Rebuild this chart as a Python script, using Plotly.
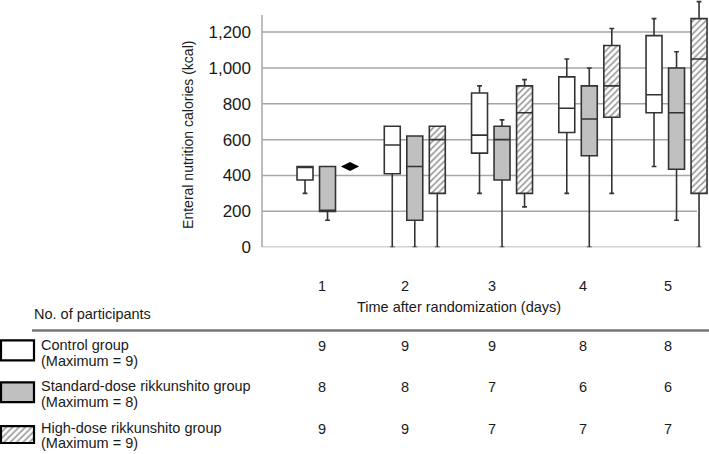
import plotly.graph_objects as go

# ---------------- data ----------------
days = [1, 2, 3, 4, 5]
day_labels = ["1", "2", "3", "4", "5"]
y_ticks = [0, 200, 400, 600, 800, 1000, 1200]

control_lo = [300, 0, 300, 300, 450]
control_q1 = [375, 410, 525, 640, 750]
control_med = [450, 570, 625, 775, 850]
control_q3 = [450, 675, 860, 950, 1180]
control_hi = [450, 675, 900, 1050, 1275]

standard_lo = [150, 0, 0, 0, 150]
standard_q1 = [200, 150, 375, 510, 435]
standard_med = [200, 450, 600, 715, 750]
standard_q3 = [450, 620, 675, 900, 1000]
standard_hi = [450, 620, 710, 1000, 1090]

high_days = [2, 3, 4, 5]
high_lo = [0, 225, 300, 0]
high_q1 = [300, 300, 725, 300]
high_med = [600, 750, 900, 1050]
high_q3 = [675, 900, 1125, 1275]
high_hi = [675, 935, 1220, 1370]
high_single_days = [1]
high_single_vals = [450]

n_control = [9, 9, 9, 8, 8]
n_standard = [8, 8, 7, 6, 6]
n_high = [9, 9, 7, 7, 7]
group_names = ["Control group", "Standard-dose rikkunshito group", "High-dose rikkunshito group"]
group_max = ["(Maximum = 9)", "(Maximum = 8)", "(Maximum = 9)"]

# ---------------- layout constants ----------------
W, H = 709, 454
VK = 454 / 446        # vertical correction observed in the renderer
FONT = "Liberation Sans, Arial, sans-serif"
TXT = "#1a1a1a"
SLOT = 0.258          # distance between group centres (days units)
BOXW = 0.183          # box width (days units)
LINE = "#333333"
GREY_FILL = "#c0c0c0"

def px(x):
    return x / W

def py(y):
    return min(1.0, max(0.0, 1 - y * VK / H))

PLOT_L, PLOT_R, PLOT_B, PLOT_T = 262, 709, 248.3, 0
X_RANGE = [0.249, 5.372]
Y_RANGE = [0, 1379]

fig = go.Figure()

hatch = dict(shape="/", fgcolor="#333333", bgcolor="white", size=4.5, solidity=0.38)

# hatched fill under high-dose boxes
fig.add_trace(go.Bar(
    x=high_days, base=high_q1,
    y=[q3 - q1 for q1, q3 in zip(high_q1, high_q3)],
    width=BOXW, offset=SLOT - BOXW / 2,
    marker=dict(color="white", line=dict(width=0), pattern=hatch),
    hoverinfo="skip", showlegend=False,
))

common = dict(line=dict(color=LINE, width=1.6), whiskerwidth=0.3,
              boxpoints=False, showlegend=False, width=BOXW)

fig.add_trace(go.Box(name="Control", x=[d - SLOT for d in days], q1=control_q1,
                     median=control_med, q3=control_q3, lowerfence=control_lo,
                     upperfence=control_hi, fillcolor="white", **common))
fig.add_trace(go.Box(name="Standard", x=days, q1=standard_q1, median=standard_med,
                     q3=standard_q3, lowerfence=standard_lo, upperfence=standard_hi,
                     fillcolor=GREY_FILL, **common))
fig.add_trace(go.Box(name="High", x=[d + SLOT for d in high_days], q1=high_q1,
                     median=high_med, q3=high_q3, lowerfence=high_lo,
                     upperfence=high_hi, fillcolor="rgba(0,0,0,0)", **common))

# single value shown as a diamond (high-dose, day 1)
fig.add_trace(go.Scatter(
    x=[d + SLOT for d in high_single_days], y=high_single_vals, mode="markers",
    marker=dict(symbol="diamond-wide", size=13, color="black"),
    showlegend=False, hoverinfo="skip",
))

# hatched legend swatch (own small axes)
fig.add_trace(go.Bar(
    x=[0], y=[1], width=1, xaxis="x2", yaxis="y2",
    marker=dict(color="white", line=dict(width=0), pattern=hatch),
    hoverinfo="skip", showlegend=False,
))

shapes = []
GRID = "#a6a6a6"
for v in y_ticks:
    shapes.append(dict(type="line", xref="paper", yref="y", x0=px(PLOT_L), x1=px(697),
                       y0=v, y1=v, line=dict(color=GRID, width=1.5), layer="below"))
shapes.append(dict(type="line", xref="paper", yref="y", x0=px(PLOT_L), x1=px(PLOT_L),
                   y0=0, y1=1296, line=dict(color=GRID, width=1.5), layer="below"))
# table rule
shapes.append(dict(type="line", xref="paper", yref="paper", x0=px(32), x1=px(709),
                   y0=py(332), y1=py(332), line=dict(color="#767676", width=2.5)))
# legend swatches
sw = [(342, 362, "white"), (384, 404, GREY_FILL), (428, 445, "rgba(0,0,0,0)")]
for y0, y1, fc in sw:
    shapes.append(dict(type="rect", xref="paper", yref="paper", x0=px(1), x1=px(34),
                       y0=py(y1), y1=py(y0), fillcolor=fc,
                       line=dict(color="black", width=2.2),
                       layer="above" if fc.startswith("rgba") else "below"))

ann = []
def text(x, y, s, xanchor="left", size=14.5, angle=0):
    ann.append(dict(x=px(x), y=py(y), xref="paper", yref="paper", text=s,
                    showarrow=False, xanchor=xanchor, yanchor="middle",
                    textangle=angle, font=dict(size=size, color=TXT, family=FONT)))

col_x = [322, 405, 492, 583, 668]
for cx, lab in zip(col_x, day_labels):
    text(cx, 287, lab, "center")
text(459, 308, "Time after randomization (days)", "center")
text(32, 315, "No. of participants")
text(188.5, 135, "Enteral nutrition calories (kcal)", "center", 14, -90)

row_y = [(347, 363), (388, 404), (430, 445)]
for (y1, y2), name, mx in zip(row_y, group_names, group_max):
    text(39, y1, name)
    text(39, y2, mx)
for cols, (y1, _) in zip([n_control, n_standard, n_high], row_y):
    for cx, n in zip(col_x, cols):
        text(cx, y1 + 1, str(n), "center")

fig.update_layout(
    width=W, height=H, autosize=False,
    margin=dict(l=0, r=0, t=0, b=0),
    paper_bgcolor="white", plot_bgcolor="white",
    barmode="overlay", boxmode="overlay",
    font=dict(family=FONT, color=TXT),
    xaxis=dict(domain=[px(PLOT_L), px(PLOT_R)], range=X_RANGE, showgrid=False,
               zeroline=False, showline=False, showticklabels=False, fixedrange=True),
    yaxis=dict(domain=[py(PLOT_B), py(PLOT_T)], range=Y_RANGE, showgrid=False,
               zeroline=False, showline=False, tickvals=y_ticks, tickformat=",d",
               ticks="", ticklabelstandoff=10, tickfont=dict(size=17, color=TXT)),
    xaxis2=dict(domain=[px(1), px(34)], range=[-0.5, 0.5], visible=False, anchor="y2"),
    yaxis2=dict(domain=[py(445), py(428)], range=[0, 1], visible=False, anchor="x2"),
    shapes=shapes, annotations=ann,
)

PAGE_CSS = "margin:0;padding:0;width:709px;height:454px;overflow:hidden"
fig.write_html(
    "out.html",
    config=dict(displayModeBar=False, responsive=False),
    post_script=(
        "document.documentElement.style.cssText='" + PAGE_CSS + "';"
        "document.body.style.cssText='" + PAGE_CSS + "';"
    ),
)
